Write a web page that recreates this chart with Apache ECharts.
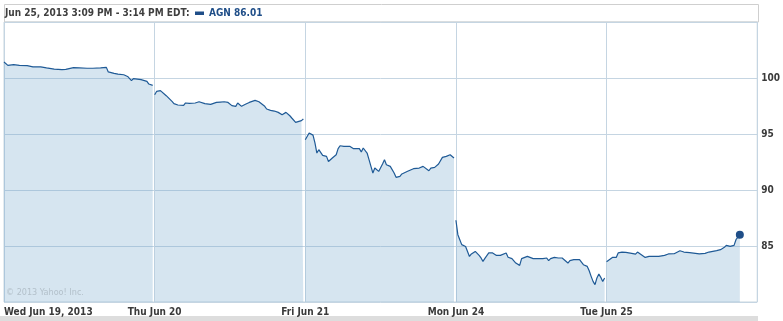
<!DOCTYPE html>
<html><head><meta charset="utf-8">
<script src="https://cdn.jsdelivr.net/npm/echarts@6/dist/echarts.min.js"></script>
<style>html,body{margin:0;padding:0;background:#fff}#c{width:783px;height:321px}</style>
</head><body><div id="c"></div>
<script>
// ---- data ----
const tickLabels = ['Wed Jun 19, 2013', 'Thu Jun 20', 'Fri Jun 21', 'Mon Jun 24', 'Tue Jun 25'];
const barsPerDay = 78; // 5-minute bars per session
const yTicks = [80, 85, 90, 95, 100, 105];
// [bar index within session, price]
const wed = [[0,101.43],[2,101.13],[5,101.19],[8,101.13],[12,101.10],[15,101.0],[19,101.0],[22,100.9],[26,100.8],[30,100.74],[32,100.77],[36,100.92],[39,100.9],[43,100.87],[46,100.87],[50,100.9],[53,100.95],[54,100.54],[57,100.41],[59,100.35],[60,100.5],[62,100.29],[63,100.44],[64,100.14],[66,99.76],[67,99.94],[69,99.9],[71,99.85],[74,99.7],[75,99.46],[76,99.62],[77,99.34]];
const thu = [[0,98.51],[1,98.80],[3,98.87],[4,98.72],[6,98.42],[7,98.30],[9,97.91],[10,97.71],[12,97.59],[13,97.65],[15,97.55],[16,97.77],[18,97.74],[21,97.77],[23,97.88],[24,97.77],[26,97.71],[29,97.65],[30,97.59],[32,97.82],[34,97.85],[36,97.88],[38,97.82],[40,97.53],[42,97.47],[43,97.77],[44,97.71],[45,97.47],[47,97.65],[49,97.82],[52,98.0],[54,97.88],[55,97.71],[57,97.47],[58,97.23],[60,97.11],[62,97.05],[64,96.93],[66,96.72],[67,96.81],[68,96.93],[70,96.63],[71,96.43],[73,96.04],[74,96.13],[76,96.19],[77,96.34]];
const fri = [[0,94.49],[2,95.09],[3,95.0],[4,94.9],[5,94.2],[6,93.30],[7,93.6],[8,93.45],[9,93.09],[10,93.2],[11,93.0],[12,92.55],[13,92.62],[14,92.86],[16,93.15],[17,93.69],[18,93.95],[20,93.9],[23,93.9],[25,93.69],[26,93.75],[28,93.69],[29,93.39],[30,93.75],[31,93.69],[32,93.3],[33,92.71],[34,92.11],[35,91.52],[36,91.96],[37,92.1],[38,91.66],[39,91.72],[40,92.32],[41,92.71],[42,92.26],[44,92.11],[45,92.02],[46,91.52],[47,91.13],[49,91.22],[50,91.43],[53,91.67],[56,91.9],[57,92.02],[59,91.96],[61,92.11],[62,91.96],[64,91.72],[65,91.96],[67,92.02],[69,92.32],[71,92.91],[73,93.0],[75,93.15],[76,93.06],[77,92.86]];
const mon = [[0,87.3],[1,86.01],[2,85.56],[3,85.12],[4,85.27],[5,84.96],[6,84.82],[7,84.07],[8,84.29],[9,84.38],[10,84.52],[11,84.38],[12,84.16],[13,83.93],[14,83.63],[15,83.9],[17,84.38],[18,84.52],[19,84.38],[20,84.44],[21,84.16],[23,84.16],[24,84.16],[26,84.38],[27,84.0],[29,83.87],[30,83.78],[31,83.48],[33,83.27],[34,83.87],[35,83.78],[37,84.07],[38,83.98],[40,83.87],[42,83.87],[43,83.93],[45,83.87],[47,83.93],[48,83.69],[49,83.87],[51,83.98],[53,83.93],[55,83.93],[56,83.78],[58,83.48],[59,83.69],[61,83.78],[62,83.78],[64,83.78],[65,83.63],[66,83.33],[68,83.18],[69,82.79],[70,82.29],[71,81.84],[72,81.55],[73,82.14],[74,82.5],[75,82.2],[76,81.84],[77,82.14]];
const tue = [[0,83.6],[3,83.98],[4,84.02],[5,83.98],[6,84.38],[8,84.46],[10,84.43],[11,84.52],[13,84.34],[15,84.28],[16,84.46],[18,84.22],[20,83.98],[22,84.07],[23,84.22],[25,84.07],[27,84.07],[28,84.13],[30,84.16],[32,84.29],[35,84.31],[36,84.37],[38,84.58],[40,84.46],[41,84.4],[43,84.4],[46,84.34],[48,84.29],[51,84.34],[53,84.46],[55,84.52],[57,84.58],[59,84.67],[60,84.76],[61,84.88],[62,85.06],[64,84.97],[66,85.06],[67,85.56],[69,86.01]];
const headerText = 'Jun 25, 2013 3:09 PM - 3:14 PM EDT:';
const legendText = 'AGN 86.01';
const copyright = '\u00a9 2013 Yahoo! Inc.';

// ---- chart ----
const days = [wed, thu, fri, mon, tue];
const lineColor = '#1f5a96';
const series = days.map((d, k) => ({
  type: 'line',
  data: d.map(p => [k * barsPerDay + p[0], p[1]]),
  showSymbol: false,
  symbol: 'none',
  lineStyle: { color: lineColor, width: 1.2 },
  areaStyle: { color: 'rgba(120,170,205,0.3)', opacity: 1, origin: 'start' },
  silent: true,
  animation: false
}));
const last = tue[tue.length - 1];
series.push({
  type: 'scatter',
  data: [[4 * barsPerDay + last[0], last[1]]],
  symbol: 'circle', symbolSize: 8,
  itemStyle: { color: '#1f4e88', opacity: 1 },
  animation: false, z: 5
});

const font = 'DejaVu Sans Condensed, DejaVu Sans, sans-serif';
const chart = echarts.init(document.getElementById('c'), null, { renderer: 'canvas' });
chart.setOption({
  animation: false,
  backgroundColor: '#fff',
  grid: { left: 4, right: 25, top: 22, bottom: 19, show: true, borderColor: '#c9d6df', borderWidth: 1 },
  xAxis: {
    type: 'value', min: 0, max: barsPerDay * 5, interval: barsPerDay,
    axisLine: { show: false }, axisTick: { show: false },
    splitLine: { show: true, lineStyle: { color: '#c5d5e2', width: 1 } },
    axisLabel: {
      margin: 5, fontFamily: font, fontSize: 10, fontWeight: 'bold', color: '#3a3a3a',
      alignMinLabel: 'left', showMaxLabel: false,
      formatter: v => tickLabels[Math.round(v / barsPerDay)] || ''
    }
  },
  yAxis: {
    type: 'value', position: 'right', min: yTicks[0], max: yTicks[yTicks.length - 1], interval: 5,
    axisLine: { show: false }, axisTick: { show: false },
    splitLine: { show: true, lineStyle: { color: '#c5d5e2', width: 1 } },
    axisLabel: {
      margin: 4, fontFamily: font, fontSize: 10, fontWeight: 'bold', color: '#3a3a3a',
      formatter: v => (v === yTicks[0] || v === yTicks[yTicks.length - 1]) ? '' : String(v)
    }
  },
  series: series,
  graphic: [
    { type: 'rect', shape: { x: 4.5, y: 4.5, width: 754, height: 17.5 }, style: { fill: 'none', stroke: '#cfcfcf', lineWidth: 1 }, silent: true },
    { type: 'text', left: 5, top: 8, style: { text: headerText, font: 'bold 10px ' + font, fill: '#3f3f3f' } },
    { type: 'rect', shape: { x: 195, y: 11.5, width: 9, height: 3.5 }, style: { fill: '#1f4e88' } },
    { type: 'text', left: 209, top: 8, style: { text: legendText, font: 'bold 10px ' + font, fill: '#1f4e88' } },
    { type: 'text', left: 6, top: 288, z: 10, style: { text: copyright, font: '9px ' + font, fill: '#b3c0ca' } },
    { type: 'rect', shape: { x: 0, y: 316, width: 758, height: 5 }, style: { fill: '#dddddd' } }
  ]
});
</script>
</body></html>
